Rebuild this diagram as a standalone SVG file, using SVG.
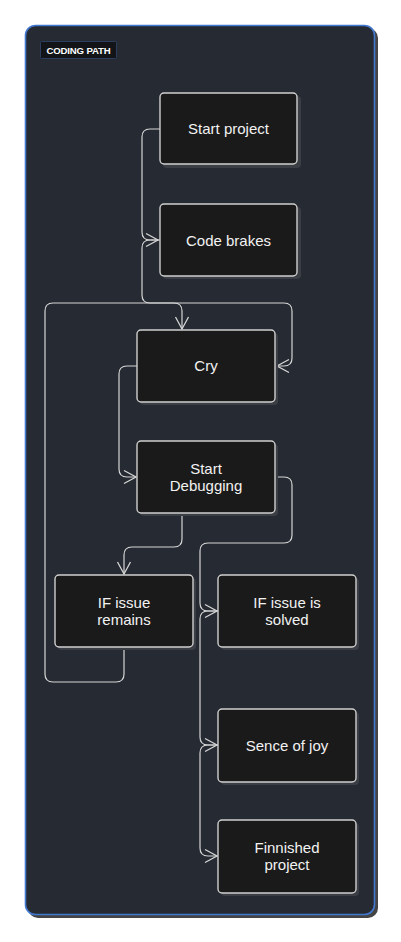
<svg xmlns="http://www.w3.org/2000/svg" width="401" height="942" viewBox="0 0 401 942">
<defs>
<style>
.node{fill:#1a1a1a;stroke:#cfcfcf;stroke-width:1.4}
.shadow{fill:#3b3e44}
.label{fill:#f2f2f2;font-family:"Liberation Sans",Arial,sans-serif;font-size:15px;text-anchor:middle}
.edge{fill:none;stroke:#d6d6d6;stroke-width:1.2}
</style>
<marker id="arr" markerUnits="userSpaceOnUse" markerWidth="16" markerHeight="16" viewBox="-14 -8 16 16" refX="0" refY="0" orient="auto">
<path d="M-12,-6.5 L0,0 L-12,6.5" fill="none" stroke="#d6d6d6" stroke-width="1.3"/>
</marker>
</defs>
<rect width="401" height="942" fill="#ffffff"/>
<g id="frame">
<rect x="28" y="28" width="350" height="890" rx="10" fill="#444"/>
<rect x="25.5" y="25.5" width="349" height="889" rx="10" fill="#262a32" stroke="#4279d0" stroke-width="1.6"/>
</g>
<g id="title">
<rect x="40.5" y="41.5" width="76" height="17" rx="1" fill="#121417" stroke="#2c3e5e" stroke-width="1"/>
<text x="78.5" y="54.3" fill="#ffffff" font-family="'Liberation Sans',Arial,sans-serif" font-size="9.6" font-weight="bold" text-anchor="middle" letter-spacing="-0.15">CODING PATH</text>
</g>
<g id="connectors">
<path class="edge" d="M160,129 H150 Q142,129 142,137 V232 Q142,240 150,240 H158" marker-end="url(#arr)"/>
<path class="edge" d="M160,240 H150 Q142,240 142,248 V295 Q142,303 150,303 H284 Q292,303 292,311 V358 Q292,366 284,366 H277" marker-end="url(#arr)"/>
<path class="edge" d="M124,647 V674 Q124,682 116,682 H53 Q45,682 45,674 V311 Q45,303 53,303 H174 Q182,303 182,311 V329" marker-end="url(#arr)"/>
<path class="edge" d="M137,366 H127 Q119,366 119,374 V469 Q119,477 127,477 H136" marker-end="url(#arr)"/>
<path class="edge" d="M182,513 V539 Q182,547 174,547 H132 Q124,547 124,555 V574" marker-end="url(#arr)"/>
<path class="edge" d="M276,477 H284 Q292,477 292,485 V535 Q292,543 284,543 H208 Q200,543 200,551 V603 Q200,611 208,611 H217" marker-end="url(#arr)"/>
<path class="edge" d="M218,611 H208 Q200,611 200,619 V737 Q200,745 208,745 H217" marker-end="url(#arr)"/>
<path class="edge" d="M218,745 H208 Q200,745 200,753 V848 Q200,856 208,856 H217" marker-end="url(#arr)"/>
</g>
<g id="start-project">
<rect class="shadow" x="163" y="96" width="138" height="72" rx="4"/>
<rect class="node" x="160" y="93" width="137" height="71" rx="4"/>
<text class="label" x="228.5" y="134">Start project</text>
</g>
<g id="code-brakes">
<rect class="shadow" x="163" y="207" width="138" height="72" rx="4"/>
<rect class="node" x="160" y="204" width="137" height="72" rx="4"/>
<text class="label" x="228.5" y="245.5">Code brakes</text>
</g>
<g id="cry">
<rect class="shadow" x="140" y="333" width="138" height="72" rx="4"/>
<rect class="node" x="137" y="330" width="138" height="72" rx="4"/>
<text class="label" x="206" y="371">Cry</text>
</g>
<g id="start-debugging">
<rect class="shadow" x="140" y="444" width="138" height="72" rx="4"/>
<rect class="node" x="137" y="441" width="138" height="72" rx="4"/>
<text class="label" x="206" y="474">Start</text>
<text class="label" x="206" y="491">Debugging</text>
</g>
<g id="if-issue-remains">
<rect class="shadow" x="58" y="578" width="138" height="72" rx="4"/>
<rect class="node" x="55" y="575" width="138" height="72" rx="4"/>
<text class="label" x="124" y="608">IF issue</text>
<text class="label" x="124" y="625">remains</text>
</g>
<g id="if-issue-solved">
<rect class="shadow" x="221" y="578" width="138" height="72" rx="4"/>
<rect class="node" x="218" y="575" width="138" height="72" rx="4"/>
<text class="label" x="287" y="608">IF issue is</text>
<text class="label" x="287" y="625">solved</text>
</g>
<g id="sence-of-joy">
<rect class="shadow" x="221" y="712" width="138" height="73" rx="4"/>
<rect class="node" x="218" y="709" width="138" height="73" rx="4"/>
<text class="label" x="287" y="750.5">Sence of joy</text>
</g>
<g id="finnished-project">
<rect class="shadow" x="221" y="823" width="138" height="73" rx="4"/>
<rect class="node" x="218" y="820" width="138" height="73" rx="4"/>
<text class="label" x="287" y="853">Finnished</text>
<text class="label" x="287" y="870">project</text>
</g>
</svg>
